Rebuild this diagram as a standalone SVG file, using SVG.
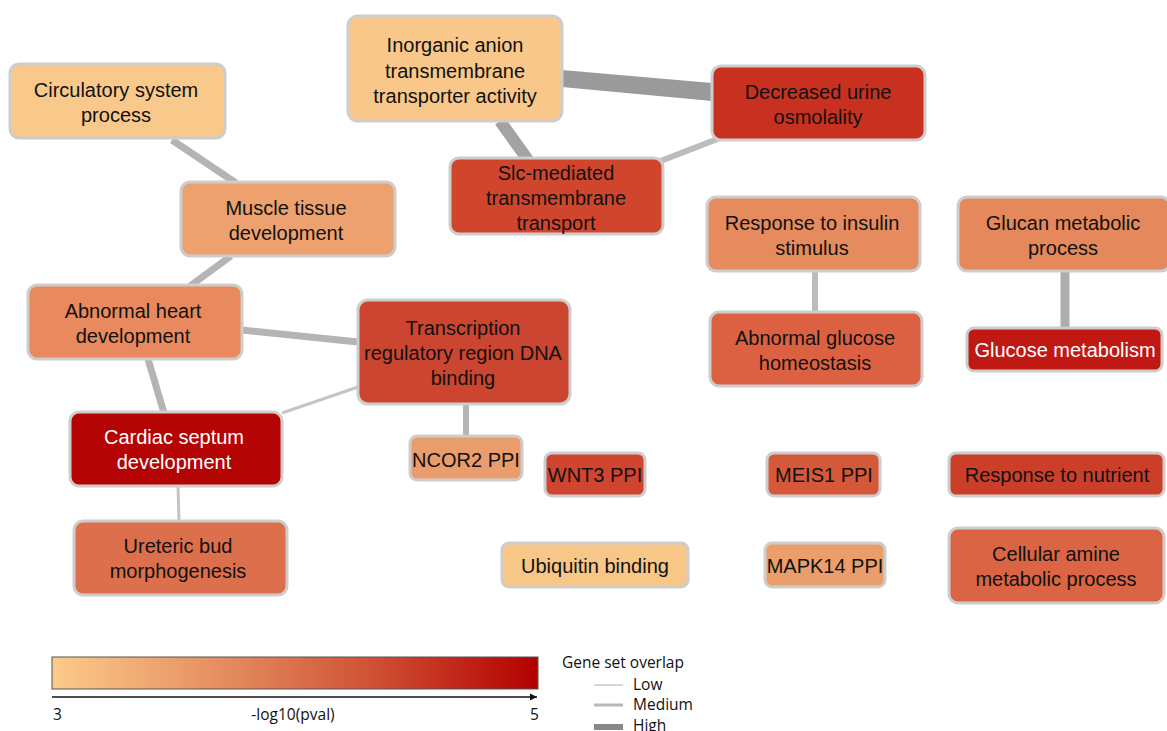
<svg xmlns="http://www.w3.org/2000/svg" width="1167" height="731" viewBox="0 0 1167 731">
<style>
.n rect{stroke:#cdcdcd;stroke-width:3}
.n text{font-family:"Liberation Sans",Arial,sans-serif;font-size:20px;fill:#111;text-anchor:middle}
.n text.w{fill:#fff}
.e line{stroke:#b4b4b4;stroke-linecap:butt}
.lg{font-family:"Open Sans","Liberation Sans",sans-serif;font-size:15.5px;fill:#111}
</style>
<defs>
<linearGradient id="grad" x1="0" x2="1" y1="0" y2="0">
<stop offset="0" stop-color="#fccb8a"/>
<stop offset="0.35" stop-color="#e58d60"/>
<stop offset="0.65" stop-color="#d05336"/>
<stop offset="1" stop-color="#b30000"/>
</linearGradient>
<marker id="arr" viewBox="0 0 10 10" refX="10" refY="5" markerWidth="5" markerHeight="5" orient="auto">
<path d="M0,0 L10,5 L0,10 z" fill="#111"/>
</marker>
</defs>
<rect width="1167" height="731" fill="#fff"/>
<g id="connectors" class="e">
<line x1="172" y1="140" x2="236" y2="183" stroke-width="7"/>
<polygon points="562,70 712,83 712,101 562,87" fill="#9a9a9a"/>
<line x1="500" y1="121" x2="528" y2="160" stroke-width="12" style="stroke:#a3a3a3"/>
<line x1="720" y1="138" x2="658" y2="162" stroke-width="6" style="stroke:#bcbcbc"/>
<line x1="231" y1="256" x2="190" y2="286" stroke-width="7"/>
<line x1="242" y1="330" x2="358" y2="342" stroke-width="7"/>
<line x1="148" y1="359" x2="164" y2="413" stroke-width="7"/>
<line x1="358" y1="387" x2="282" y2="413" stroke-width="3" style="stroke:#c4c4c4"/>
<line x1="466" y1="404" x2="466" y2="436" stroke-width="6"/>
<line x1="178" y1="486" x2="179" y2="521" stroke-width="3" style="stroke:#c4c4c4"/>
<line x1="815" y1="271" x2="815" y2="313" stroke-width="6" style="stroke:#bcbcbc"/>
<line x1="1065" y1="271" x2="1065" y2="328" stroke-width="9" style="stroke:#adadad"/>
</g>
<g id="n-circulatory" class="n"><rect x="10" y="64" width="215" height="74" rx="9" fill="#f9c98b"/><text x="116" y="97">Circulatory system</text><text x="116" y="122">process</text></g>
<g id="n-inorganic" class="n"><rect x="348" y="16" width="214" height="105" rx="10" fill="#f9c78a"/><text x="455" y="52">Inorganic anion</text><text x="455" y="78">transmembrane</text><text x="455" y="103">transporter activity</text></g>
<g id="n-decreased" class="n"><rect x="712" y="66" width="213" height="74" rx="9" fill="#c8301f"/><text x="818" y="99">Decreased urine</text><text x="818" y="124">osmolality</text></g>
<g id="n-slc" class="n"><rect x="450" y="158" width="213" height="76" rx="9" fill="#d0462d"/><text x="556" y="180">Slc-mediated</text><text x="556" y="205">transmembrane</text><text x="556" y="230">transport</text></g>
<g id="n-muscle" class="n"><rect x="181" y="182" width="214" height="74" rx="9" fill="#eda16f"/><text x="286" y="215">Muscle tissue</text><text x="286" y="240">development</text></g>
<g id="n-insulin" class="n"><rect x="707" y="197" width="213" height="74" rx="9" fill="#e68b5e"/><text x="812" y="230">Response to insulin</text><text x="812" y="255">stimulus</text></g>
<g id="n-glucan" class="n"><rect x="958" y="197" width="212" height="74" rx="9" fill="#e5885b"/><text x="1063" y="230">Glucan metabolic</text><text x="1063" y="255">process</text></g>
<g id="n-heart" class="n"><rect x="28" y="285" width="214" height="74" rx="9" fill="#e88a5d"/><text x="133" y="318">Abnormal heart</text><text x="133" y="343">development</text></g>
<g id="n-transcription" class="n"><rect x="358" y="300" width="212" height="104" rx="10" fill="#cb4530"/><text x="463" y="335">Transcription</text><text x="463" y="360">regulatory region DNA</text><text x="463" y="385">binding</text></g>
<g id="n-glucose-homeo" class="n"><rect x="710" y="312" width="212" height="74" rx="9" fill="#dc6142"/><text x="815" y="345">Abnormal glucose</text><text x="815" y="370">homeostasis</text></g>
<g id="n-glucose-metab" class="n"><rect x="967" y="328" width="195" height="43" rx="7" fill="#c01914"/><text class="w" x="1065" y="357">Glucose metabolism</text></g>
<g id="n-cardiac" class="n"><rect x="70" y="412" width="212" height="74" rx="9" fill="#b40404"/><text class="w" x="174" y="444">Cardiac septum</text><text class="w" x="174" y="469">development</text></g>
<g id="n-ncor2" class="n"><rect x="410" y="436" width="112" height="44" rx="7" fill="#eb9c6c"/><text x="466" y="467">NCOR2 PPI</text></g>
<g id="n-wnt3" class="n"><rect x="545" y="453" width="100" height="43" rx="7" fill="#cf4530"/><text x="595" y="482">WNT3 PPI</text></g>
<g id="n-meis1" class="n"><rect x="767" y="453" width="113" height="43" rx="7" fill="#d55838"/><text x="824" y="482">MEIS1 PPI</text></g>
<g id="n-nutrient" class="n"><rect x="949" y="453" width="215" height="43" rx="7" fill="#cb3f2a"/><text x="1057" y="482">Response to nutrient</text></g>
<g id="n-ureteric" class="n"><rect x="74" y="521" width="213" height="74" rx="9" fill="#dc704c"/><text x="178" y="553">Ureteric bud</text><text x="178" y="578">morphogenesis</text></g>
<g id="n-ubiquitin" class="n"><rect x="502" y="543" width="186" height="44" rx="7" fill="#f8c686"/><text x="595" y="573">Ubiquitin binding</text></g>
<g id="n-mapk14" class="n"><rect x="765" y="543" width="120" height="44" rx="7" fill="#eb9e6c"/><text x="825" y="573">MAPK14 PPI</text></g>
<g id="n-amine" class="n"><rect x="949" y="528" width="215" height="75" rx="9" fill="#da6443"/><text x="1056" y="561">Cellular amine</text><text x="1056" y="586">metabolic process</text></g>
<g id="legend">
<rect x="52" y="657" width="486" height="32" fill="url(#grad)" stroke="#555" stroke-width="1"/>
<line x1="52" y1="697" x2="537" y2="697" stroke="#111" stroke-width="1.5" marker-end="url(#arr)"/>
<text class="lg" x="53" y="720">3</text>
<text class="lg" x="293" y="720" text-anchor="middle">-log10(pval)</text>
<text class="lg" x="530" y="720">5</text>
<text class="lg" x="562" y="668">Gene set overlap</text>
<line x1="594" y1="685" x2="623" y2="685" stroke="#c8c8c8" stroke-width="1.5"/>
<text class="lg" x="633" y="690">Low</text>
<line x1="594" y1="705" x2="623" y2="705" stroke="#b8b8b8" stroke-width="3"/>
<text class="lg" x="633" y="710">Medium</text>
<line x1="594" y1="727" x2="623" y2="727" stroke="#888" stroke-width="6"/>
<text class="lg" x="633" y="731">High</text>
</g>
</svg>
